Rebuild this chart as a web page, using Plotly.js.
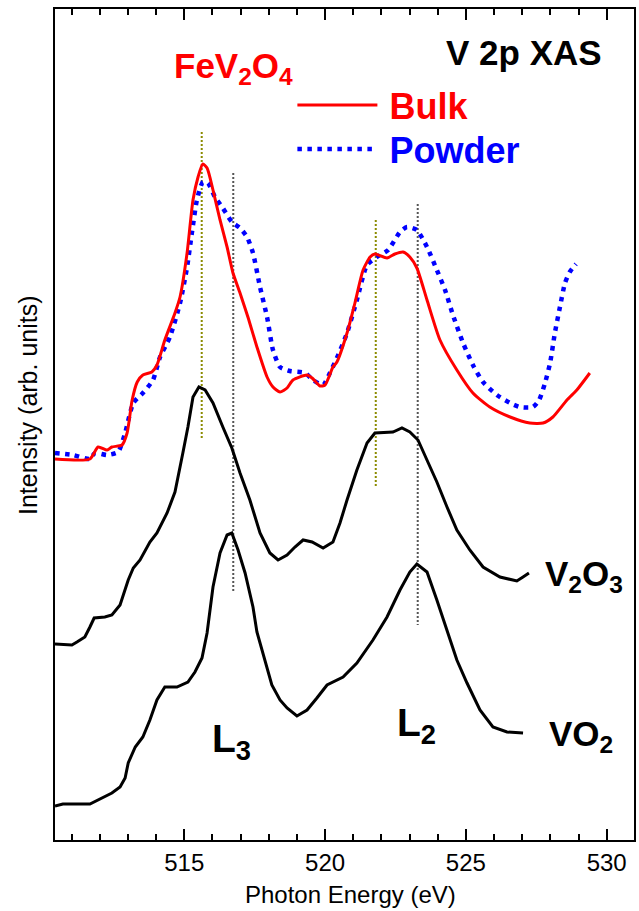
<!DOCTYPE html>
<html>
<head>
<meta charset="utf-8">
<script src="https://cdn.plot.ly/plotly-3.0.1.min.js"></script>
<style>html,body{margin:0;padding:0;background:#fff;}#chart{width:639px;height:911px;}</style>
</head>
<body>
<div id="chart"></div>
<script>
// Photon energy (eV) and intensity (arb. units, offset curves)
var E_bulk = [510.41,511.65,511.94,512.26,512.43,512.79,512.97,513.15,513.33,513.53,513.85,514.03,514.31,514.67,514.85,515.10,515.31,515.49,515.66,515.81,516.02,516.27,516.52,516.73,516.98,517.26,517.58,517.94,518.15,518.40,518.65,518.86,519.36,519.54,519.82,520.00,520.28,520.42,520.78,521.06,521.35,521.60,521.77,522.20,522.48,522.77,523.01,523.26,523.62,524.08,524.68,525.25,525.85,526.57,527.27,527.74,528.09,528.59,528.94,529.40];
var I_bulk = [3.81,3.81,3.93,3.90,3.93,3.95,4.07,4.40,4.58,4.65,4.68,4.75,5.00,5.27,5.43,5.87,6.40,6.63,6.76,6.72,6.50,6.20,5.93,5.67,5.47,5.23,4.93,4.63,4.53,4.48,4.52,4.60,4.65,4.62,4.54,4.55,4.73,4.78,5.07,5.37,5.70,5.83,5.86,5.82,5.86,5.88,5.83,5.72,5.40,5.00,4.70,4.47,4.33,4.23,4.17,4.17,4.23,4.40,4.50,4.67];

var E_powder = [510.41,511.05,511.65,511.83,512.26,512.65,512.90,513.19,513.53,513.89,514.14,514.49,514.85,515.10,515.27,515.45,515.66,515.84,516.09,516.37,516.69,516.98,517.23,517.44,517.69,517.94,518.15,518.40,518.75,519.29,519.57,519.93,520.17,520.42,520.78,521.13,521.49,521.84,522.24,522.66,522.91,523.26,523.62,523.97,524.26,524.54,524.90,525.25,525.61,526.10,526.57,526.92,527.38,527.60,527.81,527.99,528.16,528.34,528.52,528.69,528.91];
var I_powder = [3.87,3.85,3.81,3.87,3.85,3.88,4.07,4.37,4.47,4.60,4.83,5.03,5.37,5.73,6.07,6.40,6.58,6.57,6.43,6.32,6.18,6.12,6.03,5.87,5.53,5.23,4.90,4.73,4.69,4.67,4.60,4.55,4.67,4.82,5.07,5.40,5.75,5.83,5.90,6.08,6.13,6.10,5.93,5.70,5.50,5.25,4.97,4.75,4.58,4.45,4.37,4.33,4.33,4.40,4.57,4.77,5.07,5.33,5.57,5.68,5.76];

var E_v2o3 = [510.41,511.01,511.19,511.47,511.65,511.80,512.18,512.43,512.72,513.01,513.19,513.43,513.78,514.03,514.39,514.67,514.95,515.13,515.31,515.52,515.74,516.02,516.37,516.69,516.98,517.33,517.69,518.04,518.33,518.65,518.93,519.22,519.54,519.93,520.28,520.53,520.78,521.13,521.49,521.77,522.41,522.73,523.01,523.30,523.65,523.97,524.33,524.68,525.14,525.61,526.21,526.81,527.03,527.24];
var I_v2o3 = [1.96,1.95,1.98,2.03,2.13,2.22,2.23,2.25,2.35,2.60,2.72,2.80,2.98,3.07,3.27,3.48,3.87,4.13,4.43,4.53,4.50,4.37,4.13,3.92,3.67,3.40,3.07,2.87,2.80,2.85,2.93,3.00,2.98,2.92,2.98,3.17,3.40,3.70,3.97,4.07,4.08,4.12,4.08,4.00,3.78,3.58,3.33,3.10,2.90,2.73,2.63,2.59,2.63,2.67];

var E_vo2 = [510.41,510.69,511.65,512.01,512.43,512.72,512.90,513.01,513.26,513.53,513.78,514.03,514.31,514.74,515.13,515.38,515.63,515.81,516.02,516.27,516.52,516.69,516.91,517.16,517.44,517.58,517.87,518.11,518.40,518.65,519.00,519.36,519.71,520.07,520.64,521.13,521.70,522.20,522.66,523.01,523.26,523.62,523.97,524.33,524.68,525.04,525.50,525.96,526.46,527.03];
var I_vo2 = [0.34,0.36,0.36,0.41,0.47,0.53,0.62,0.77,0.93,1.03,1.20,1.40,1.53,1.53,1.58,1.68,1.82,2.07,2.53,2.87,3.05,3.07,2.90,2.67,2.33,2.08,1.80,1.55,1.40,1.32,1.24,1.30,1.42,1.55,1.63,1.77,2.00,2.23,2.50,2.68,2.76,2.68,2.40,2.10,1.80,1.57,1.30,1.13,1.08,1.07];

// Peak marker lines: energy, top and bottom intensity
var marker_E      = [515.62, 516.74, 521.80, 523.29];
var marker_top    = [7.08, 6.67, 6.20, 6.36];
var marker_bottom = [4.02, 2.47, 3.52, 2.15];
var marker_color  = ['#8b8b00', '#555555', '#8b8b00', '#555555'];

var xTickVals = [515, 520, 525, 530];

var ARIAL = 'Arial, Liberation Sans, sans-serif';

var traces = [];
for (var i = 0; i < marker_E.length; i++) {
  traces.push({
    x: [marker_E[i], marker_E[i]], y: [marker_top[i], marker_bottom[i]],
    mode: 'lines', showlegend: false, hoverinfo: 'skip',
    line: {color: marker_color[i], width: 2, dash: '2px,2px'}
  });
}
traces.push({x: E_v2o3, y: I_v2o3, mode: 'lines', showlegend: false, line: {color: '#000', width: 3}});
traces.push({x: E_vo2, y: I_vo2, mode: 'lines', showlegend: false, line: {color: '#000', width: 3}});
traces.push({x: E_powder, y: I_powder, mode: 'lines', name: '<span style="color:#0000ff">\u2009Powder</span>', legend: 'legend2',
  line: {color: '#0000ff', width: 4.5, dash: '4.5px,5.5px', shape: 'spline', smoothing: 0.6}});
traces.push({x: E_bulk, y: I_bulk, mode: 'lines', name: '<span style="color:#ff0000">\u2009Bulk</span>', legend: 'legend',
  line: {color: '#ff0000', width: 3, shape: 'spline', smoothing: 0.6}});

var legendFont = {family: ARIAL, size: 36, weight: 'bold', color: '#000'};

var layout = {
  width: 639, height: 911,
  margin: {l: 55, r: 5, t: 9, b: 71},
  paper_bgcolor: '#fff', plot_bgcolor: '#fff',
  showlegend: true,
  legend: {
    x: 0.41, y: 0.9206, xanchor: 'left', yanchor: 'top',
    bgcolor: 'rgba(0,0,0,0)', borderwidth: 0, itemwidth: 80, font: legendFont
  },
  legend2: {
    x: 0.41, y: 0.8676, xanchor: 'left', yanchor: 'top',
    bgcolor: 'rgba(0,0,0,0)', borderwidth: 0, itemwidth: 80, font: legendFont
  },
  xaxis: {
    range: [510.41, 530.97], showgrid: false, zeroline: false,
    showline: true, linecolor: '#000', linewidth: 2, mirror: 'ticks',
    ticks: 'inside', ticklen: 11, tickwidth: 2, tickcolor: '#000',
    tickvals: xTickVals, ticktext: xTickVals.map(String),
    minor: {dtick: 1, tick0: 510, ticks: 'inside', ticklen: 6, tickwidth: 2, tickcolor: '#000', showgrid: false},
    tickfont: {family: ARIAL, size: 24, color: '#000'}
  },
  yaxis: {
    range: [0, 8.31], showgrid: false, zeroline: false,
    showline: true, linecolor: '#000', linewidth: 2, mirror: true,
    ticks: '', showticklabels: false
  },
  annotations: [
    {x: 0.511, y: -0.065, xref: 'paper', yref: 'paper', text: 'Photon Energy (eV)', showarrow: false,
      xanchor: 'center', yanchor: 'middle', font: {family: ARIAL, size: 24, color: '#000'}},
    {x: -0.0466, y: 0.5235, xref: 'paper', yref: 'paper', text: 'Intensity (arb. units)', showarrow: false, textangle: -90,
      xanchor: 'center', yanchor: 'middle', font: {family: ARIAL, size: 25, color: '#000'}},
    {x: 527.06, y: 7.88, xref: 'x', yref: 'y', text: 'V 2p XAS', showarrow: false, xanchor: 'center', yanchor: 'middle',
      font: {family: ARIAL, size: 35, weight: 'bold', color: '#000'}},
    {x: 514.57, y: 7.72, xref: 'x', yref: 'y', text: 'FeV<sub>2</sub>O<sub>4</sub>', showarrow: false, xanchor: 'left', yanchor: 'middle',
      font: {family: ARIAL, size: 35, weight: 'bold', color: '#ff0000'}},
    {x: 527.73, y: 2.64, xref: 'x', yref: 'y', text: 'V<sub>2</sub>O<sub>3</sub>', showarrow: false, xanchor: 'left', yanchor: 'middle',
      font: {family: ARIAL, size: 35, weight: 'bold', color: '#000'}},
    {x: 527.87, y: 1.04, xref: 'x', yref: 'y', text: 'VO<sub>2</sub>', showarrow: false, xanchor: 'left', yanchor: 'middle',
      font: {family: ARIAL, size: 35, weight: 'bold', color: '#000'}},
    {x: 515.92, y: 0.99, xref: 'x', yref: 'y', text: 'L<sub>3</sub>', showarrow: false, xanchor: 'left', yanchor: 'middle',
      font: {family: ARIAL, size: 39, weight: 'bold', color: '#000'}},
    {x: 522.48, y: 1.15, xref: 'x', yref: 'y', text: 'L<sub>2</sub>', showarrow: false, xanchor: 'left', yanchor: 'middle',
      font: {family: ARIAL, size: 39, weight: 'bold', color: '#000'}}
  ]
};

Plotly.newPlot('chart', traces, layout, {staticPlot: true, displayModeBar: false});
</script>
</body>
</html>
